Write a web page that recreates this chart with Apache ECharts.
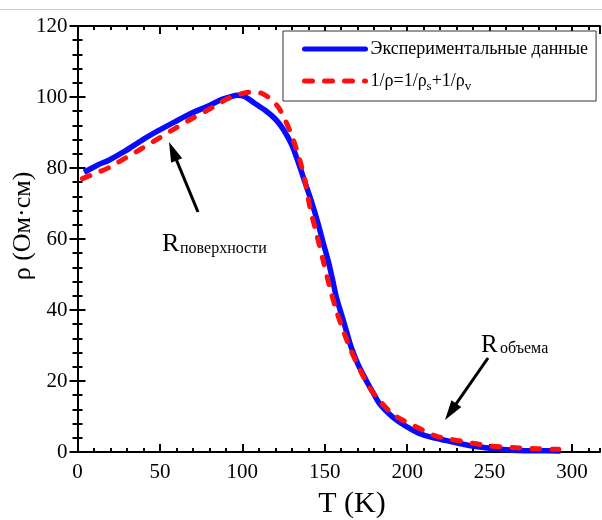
<!DOCTYPE html>
<html>
<head>
<meta charset="utf-8">
<script src="https://cdn.jsdelivr.net/npm/echarts@6/dist/echarts.min.js"></script>
<style>
html,body{margin:0;padding:0;background:#fff;}
#chart{width:602px;height:520px;}
</style>
</head>
<body>
<div id="chart"></div>
<script>
// Experimental data (blue solid)
var T_exp   = [4, 12, 19, 29, 39, 49, 59, 69, 79, 87, 93, 97, 101, 107, 114, 120, 125, 130, 134, 138, 142, 146, 149, 152, 155, 157, 160, 163, 166, 170, 175, 179, 183, 189, 195, 201, 207, 215, 224, 234, 244, 254, 264, 278, 293];
var rho_exp = [78.8, 80.8, 82.2, 84.8, 87.8, 90.5, 93, 95.4, 97.4, 99.2, 100.1, 100.5, 100.2, 98.4, 96.2, 93.8, 90.8, 86.5, 81.5, 76, 70.5, 64.3, 59, 54, 48, 43.7, 39, 34.3, 29.6, 24.9, 20.3, 17, 13.8, 10.8, 8.5, 6.8, 5.3, 4.1, 3.2, 2.2, 1.4, 0.9, 0.5, 0.35, 0.3];
// Model 1/rho = 1/rho_s + 1/rho_v (red dashed)
var T_fit   = [3, 11, 19, 29, 39, 49, 59, 69, 79, 86, 91, 97, 102, 107, 112, 117, 122, 126, 129, 132, 135, 138, 141, 145, 149, 153, 157, 161, 165, 171, 177, 183, 191, 198, 205, 212, 218, 225, 232, 242, 252, 266, 278, 292];
var rho_fit = [77, 78.5, 80.1, 82.8, 85.5, 88.3, 91.1, 93.8, 96.3, 98.2, 99.5, 100.6, 101.2, 101.4, 101, 99.5, 97, 93.5, 90.3, 86.5, 82, 76.5, 69, 61.5, 54, 46.5, 39.9, 34.5, 29.6, 23.5, 18.3, 14.6, 10.8, 8.8, 7.2, 5.6, 4.4, 3.7, 3.1, 2.3, 1.6, 1.2, 0.95, 0.75];

var seriesNames = ['Экспериментальные данные', '1/ρ=1/ρs+1/ρv'];
var xMin = 0, xMax = 317, xStep = 50, xMinorStep = 10;
var yMin = 0, yMax = 120, yStep = 20;

function pairs(xs, ys){ return xs.map(function(x,i){ return [x, ys[i]]; }); }

var FONT = 'Liberation Serif';
var chart = echarts.init(document.getElementById('chart'), null, {renderer:'canvas'});

function arrow(tail, tip, headLen, headHalf){
  var dx = tip[0]-tail[0], dy = tip[1]-tail[1];
  var L = Math.sqrt(dx*dx+dy*dy), ux = dx/L, uy = dy/L;
  var bx = tip[0]-headLen*ux, by = tip[1]-headLen*uy;
  var nx = -uy, ny = ux;
  return [
    {type:'line', shape:{x1:tail[0], y1:tail[1], x2:bx+2*ux, y2:by+2*uy}, style:{stroke:'#000', lineWidth:3}},
    {type:'polygon', shape:{points:[[tip[0],tip[1]],[bx+headHalf*nx, by+headHalf*ny],[bx-headHalf*nx, by-headHalf*ny]]}, style:{fill:'#000'}}
  ];
}

var axisLineStyle = {color:'#000', width:2};
var graphics = [
  {type:'line', shape:{x1:0, y1:9.5, x2:602, y2:9.5}, style:{stroke:'#cfcfcf', lineWidth:1}},
  {type:'text', x:23, y:226, rotation:Math.PI/2, style:{text:'ρ (Ом·см)', font:'26px "Liberation Serif"', fill:'#000', textAlign:'center', textVerticalAlign:'middle'}},
  {type:'text', x:352, y:504, style:{text:'T (K)', font:'30px "Liberation Serif"', fill:'#000', textAlign:'center', textVerticalAlign:'middle'}},
  {type:'text', x:162, y:231, style:{text:'R', font:'26px "Liberation Serif"', fill:'#000', textAlign:'left', textVerticalAlign:'alphabetic'}},
  {type:'text', x:180, y:241, style:{text:'поверхности', font:'16px "Liberation Serif"', fill:'#000', textAlign:'left', textVerticalAlign:'alphabetic'}},
  {type:'text', x:481, y:333, style:{text:'R', font:'25px "Liberation Serif"', fill:'#000', textAlign:'left', textVerticalAlign:'alphabetic'}},
  {type:'text', x:500, y:341, style:{text:'объема', font:'16px "Liberation Serif"', fill:'#000', textAlign:'left', textVerticalAlign:'alphabetic'}}
].concat(arrow([198,212],[169,142],20,6)).concat(arrow([488,358],[445,420],20,6));

var option = {
  animation:false,
  backgroundColor:'#fff',
  grid:{left:77.5, top:26, right:2, bottom:68, containLabel:false},
  legend:{
    data:seriesNames,
    orient:'vertical',
    left:283, top:31,
    padding:[6,8,8,19],
    itemGap:8,
    itemWidth:61, itemHeight:14,
    backgroundColor:'#fff',
    borderColor:'#333', borderWidth:1, borderRadius:0,
    itemStyle:{opacity:0},
    lineStyle:{width:5, cap:'round'},
    textStyle:{fontFamily:FONT, fontSize:18, color:'#000', lineHeight:24, padding:[0,0,0,0],
      rich:{s:{fontFamily:FONT, fontSize:13, color:'#000', verticalAlign:'bottom', lineHeight:12}}},
    formatter:function(n){
      if(n === seriesNames[1]) return '1/ρ=1/ρ{s|s}+1/ρ{s|v}';
      return n;
    }
  },
  xAxis:[
    {type:'value', position:'bottom', min:xMin, max:xMax, interval:xStep,
     axisLine:{lineStyle:axisLineStyle}, axisTick:{inside:true, length:8, lineStyle:{width:2, color:'#000'}},
     axisLabel:{fontFamily:FONT, fontSize:21, color:'#000', margin:10, showMaxLabel:false},
     splitLine:{show:false}},
    {type:'value', position:'bottom', min:xMin, max:xMax, interval:xMinorStep,
     axisLine:{show:false}, axisTick:{inside:true, length:4, lineStyle:{width:2, color:'#000'}},
     axisLabel:{show:false}, splitLine:{show:false}},
    {type:'value', position:'top', min:xMin, max:xMax, interval:xStep,
     axisLine:{lineStyle:axisLineStyle}, axisTick:{inside:true, length:8, lineStyle:{width:2, color:'#000'}},
     axisLabel:{show:false}, splitLine:{show:false}},
    {type:'value', position:'top', min:xMin, max:xMax, interval:xMinorStep,
     axisLine:{show:false}, axisTick:{inside:true, length:4, lineStyle:{width:2, color:'#000'}},
     axisLabel:{show:false}, splitLine:{show:false}}
  ],
  yAxis:[
    {type:'value', position:'left', min:yMin, max:yMax, interval:yStep,
     axisLine:{lineStyle:axisLineStyle}, axisTick:{inside:true, length:8, lineStyle:{width:2, color:'#000'}},
     minorTick:{show:true, splitNumber:5, length:5, lineStyle:{width:2, color:'#000'}},
     axisLabel:{fontFamily:FONT, fontSize:21, color:'#000', margin:10},
     splitLine:{show:false}},
    {type:'value', position:'right', min:yMin, max:yMax, interval:yStep,
     axisLine:{lineStyle:axisLineStyle}, axisTick:{inside:true, length:8, lineStyle:{width:2, color:'#000'}},
     minorTick:{show:true, splitNumber:5, length:5, lineStyle:{width:2, color:'#000'}},
     axisLabel:{show:false}, splitLine:{show:false}}
  ],
  series:[
    {name:seriesNames[0], type:'line', xAxisIndex:0, yAxisIndex:0, data:pairs(T_exp, rho_exp),
     showSymbol:false, symbol:'none', smooth:0.3,
     lineStyle:{color:'#0a0aff', width:5.5}, itemStyle:{color:'#0a0aff'}, z:2},
    {name:seriesNames[1], type:'line', xAxisIndex:0, yAxisIndex:0, data:pairs(T_fit, rho_fit),
     showSymbol:false, symbol:'none', smooth:0.3,
     lineStyle:{color:'#ff1010', width:5, type:[8,12], cap:'round'}, itemStyle:{color:'#ff1010'}, z:3}
  ],
  graphic:graphics
};
chart.setOption(option);
</script>
</body>
</html>
